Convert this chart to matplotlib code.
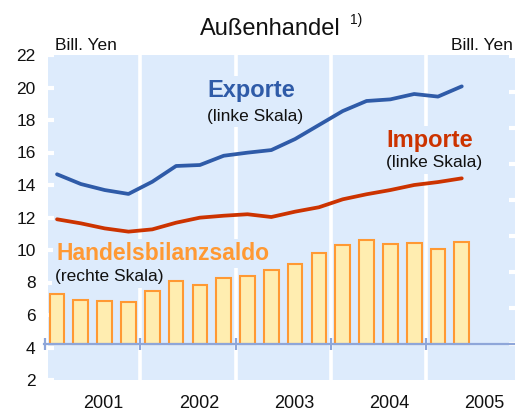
import matplotlib
matplotlib.use("Agg")
import matplotlib.pyplot as plt

plt.rcParams['font.family'] = ['Liberation Sans', 'DejaVu Sans']

# ---- data ----
periods = ["2001Q1", "2001Q2", "2001Q3", "2001Q4",
           "2002Q1", "2002Q2", "2002Q3", "2002Q4",
           "2003Q1", "2003Q2", "2003Q3", "2003Q4",
           "2004Q1", "2004Q2", "2004Q3", "2004Q4",
           "2005Q1", "2005Q2"]
exporte = [14.66, 14.06, 13.69, 13.45, 14.2, 15.17, 15.23, 15.8, 15.99,
           16.15, 16.83, 17.69, 18.55, 19.17, 19.27, 19.6, 19.44, 20.07]
importe = [11.89, 11.64, 11.33, 11.13, 11.27, 11.68, 11.99, 12.11, 12.2,
           12.03, 12.36, 12.63, 13.12, 13.43, 13.69, 14.0, 14.18, 14.41]
saldo = [1.38, 1.21, 1.19, 1.18, 1.48, 1.75, 1.65, 1.84, 1.90,
         2.05, 2.22, 2.52, 2.75, 2.88, 2.79, 2.81, 2.65, 2.83]
years = [2001, 2002, 2003, 2004, 2005]
year_labels = ["2001", "2002", "2003", "2004", "2005"]
left_ticks = [2, 4, 6, 8, 10, 12, 14, 16, 18, 20, 22]
right_ticks = [0, 1, 2, 3, 4, 5, 6, 7, 8]

x = [int(p[:4]) + (int(p[5]) - 0.5) / 4 for p in periods]

BG = "#DDEBFC"
BLUE = "#2F5BA8"
RED = "#CC3300"
ORANGE = "#FF9933"
BARFACE = "#FFEDB0"
AXLINE = "#8EA6D9"

W, H = 515, 412
fig = plt.figure(figsize=(W / 100, H / 100), dpi=100)
ax_l, ax_r, ax_t, ax_b = 48 / W, 1.0, 1 - 55 / H, 1 - 380 / H
ax = fig.add_axes([ax_l, ax_b, ax_r - ax_l, ax_t - ax_b])
ax.set_facecolor(BG)
ax.set_xlim(2001.03, 2005.934)
ax.set_ylim(2, 22)
for s in ax.spines.values():
    s.set_visible(False)

# white year separators
for yr in years[1:]:
    ax.axvline(yr, color="white", lw=2.6, zorder=1)

ax.set_yticks(left_ticks)
ax.set_yticklabels([str(t) for t in left_ticks], fontsize=12.5, color="#111111")
ax.tick_params(axis="y", direction="in", length=4, width=3, color="white", pad=9)

ax.set_xticks([yr + 0.615 for yr in years])
ax.set_xticklabels(year_labels, fontsize=13, color="#111111")
ax.tick_params(axis="x", length=0, pad=10.5)

ax.plot(x, exporte, color=BLUE, lw=2.7, zorder=4, solid_capstyle="round",
        solid_joinstyle="round")
ax.plot(x, importe, color=RED, lw=2.7, zorder=4, solid_capstyle="round",
        solid_joinstyle="round")

box = dict(facecolor=BG, edgecolor="none", pad=2.5)
ax.text(2002.708, 19.40, "Exporte", color=BLUE, fontsize=17, fontweight="bold",
        va="baseline", ha="left", bbox=box, zorder=2)
ax.text(2002.698, 17.94, "(linke Skala)", color="#111111", fontsize=12.5,
        va="baseline", ha="left", bbox=box, zorder=2)
ax.text(2004.58, 16.32, "Importe", color=RED, fontsize=17, fontweight="bold",
        va="baseline", ha="left", bbox=box, zorder=2)
ax.text(2004.58, 15.09, "(linke Skala)", color="#111111", fontsize=12.5,
        va="baseline", ha="left", bbox=box, zorder=2)
ax.text(2001.115, 9.385, "Handelsbilanzsaldo", color=ORANGE, fontsize=16.5,
        fontweight="bold", va="baseline", ha="left", bbox=box, zorder=2)
ax.text(2001.105, 8.09, "(rechte Skala)", color="#111111", fontsize=12.5,
        va="baseline", ha="left", bbox=box, zorder=2)

# right axis (trade balance)
ax2 = ax.twinx()
ax2.set_ylim(-1.0, (380 - 55) / 36 - 1.0)
ax2.patch.set_visible(False)
for s in ax2.spines.values():
    s.set_visible(False)
ax2.set_yticks(right_ticks)
ax2.set_yticklabels([])
ax2.tick_params(axis="y", direction="in", length=4, width=3, color="white")

ax2.bar(x, saldo, width=0.155, color=BARFACE, edgecolor=ORANGE, linewidth=1.5,
        zorder=3)
ax2.axhline(0, xmin=-0.008, xmax=1, color=AXLINE, lw=1.6, clip_on=False, zorder=4)
ax2.vlines(years, -0.17, 0.17, color=AXLINE, lw=1.6, clip_on=False, zorder=4)

# titles / units
fig.text(270.5 / W, 1 - 35 / H, "Außenhandel", fontsize=17, ha="center",
         va="baseline", color="#111111")
fig.text(350 / W, 1 - 24 / H, "1)", fontsize=10, ha="left", va="baseline",
         color="#111111")
fig.text(55 / W, 1 - 50 / H, "Bill. Yen", fontsize=12.5, ha="left",
         va="baseline", color="#111111")
fig.text(513 / W, 1 - 50 / H, "Bill. Yen", fontsize=12.5, ha="right",
         va="baseline", color="#111111")

fig.savefig("out.png", dpi=100)
